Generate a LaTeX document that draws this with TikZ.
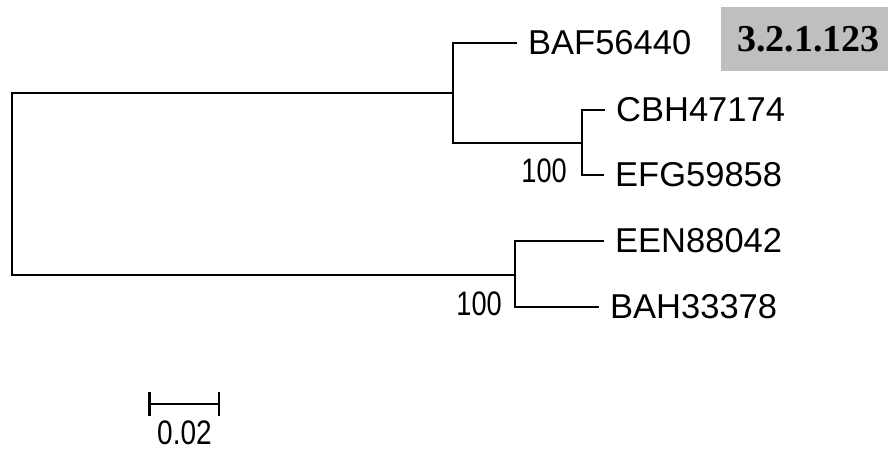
\documentclass[tikz,border=0pt]{standalone}
\usepackage{fontspec}
\setmainfont{Liberation Sans}
\newfontfamily\bootfont[FakeStretch=0.8]{Liberation Sans}
\newfontfamily\ecfont{Liberation Serif}
\usetikzlibrary{arrows.meta}
\tikzset{
    branch/.style={line width=2.5pt, line join=miter}, % 树枝
    taxon/.style={anchor=west, inner xsep=11pt, inner ysep=0pt, font=\fontsize{34.5}{40}\selectfont}, % 叶子标签
    boot/.style={anchor=east, inner sep=0pt, font=\bootfont\fontsize{34}{40}\selectfont}, % 支持率
    ecbox/.style={fill=black!25, minimum width=167pt, minimum height=64pt, inner sep=0pt, font=\ecfont\bfseries\fontsize{38}{44}\selectfont}
}
\begin{document}
\begin{tikzpicture}[x=1pt, y=-1pt]
    \useasboundingbox (0,0) rectangle (889,452);

    % internal nodes
    \coordinate (root) at (12,183);
    \coordinate (n1) at (453,93);
    \coordinate (n2) at (582,143);
    \coordinate (n3) at (515,275);

    % leaves
    \node[taxon] (baf) at (517,43) {BAF56440};
    \node[taxon] (cbh) at (605,110) {CBH47174};
    \node[taxon] (efg) at (604,175) {EFG59858};
    \node[taxon] (een) at (604,241) {EEN88042};
    \node[taxon] (bah) at (599,307) {BAH33378};

    \draw[branch] (root) |- (n1);
    \draw[branch] (root) |- (n3);
    \draw[branch] (n1) |- (baf.west);
    \draw[branch] (n1) |- (n2);
    \draw[branch] (n2) |- (cbh.west);
    \draw[branch] (n2) |- (efg.west);
    \draw[branch] (n3) |- (een.west);
    \draw[branch] (n3) |- (bah.west);

    \node[boot] (b2) at (567,171) {100};
    \node[boot] (b3) at (502,304) {100};

    \node[ecbox] (ec) at (804.5,39) {\hspace{8pt}3.2.1.123};

    % scale bar
    \coordinate (sbl) at (148,404);
    \coordinate (sbr) at (220,404);
    \draw[line width=2.5pt, {Bar[width=24pt,line width=2.5pt]}-{Bar[width=24pt,line width=2.5pt]}] (sbl) -- (sbr);
    \node[inner sep=0pt, font=\bootfont\fontsize{34}{40}\selectfont, xscale=1.03] (sbt) at (184.5,433) {0.02};
\end{tikzpicture}
\end{document}
